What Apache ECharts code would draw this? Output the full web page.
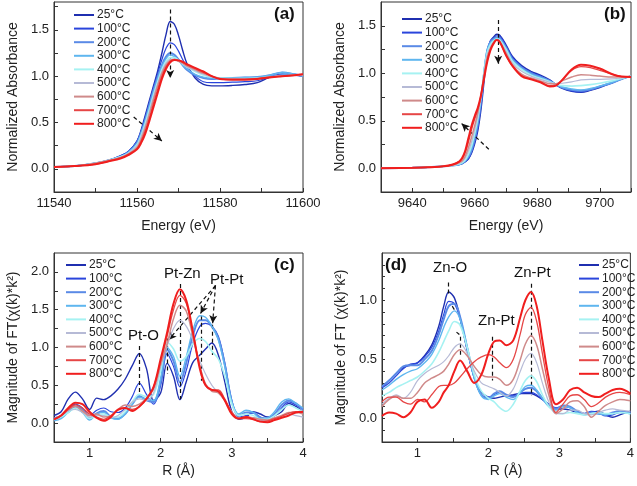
<!DOCTYPE html>
<html><head><meta charset="utf-8">
<script src="https://cdn.jsdelivr.net/npm/echarts@6/dist/echarts.min.js"></script>
<style>html,body{margin:0;padding:0;background:#fff}#c{width:637px;height:486px}</style>
</head><body><div id="c"></div>
<script>
const temps = ['25°C','100°C','200°C','300°C','400°C','500°C','600°C','700°C','800°C'];

// Panel (a) Pt L3 XANES
const xA = [11540,11545,11550,11553,11556,11558,11560,11561,11562,11563,11564,11565,11566,11567,11568,11569,11570,11571,11572,11574,11576,11578,11580,11583,11586,11589,11592,11595,11598,11600];
const a25  = [0.02,0.03,0.06,0.09,0.14,0.19,0.30,0.42,0.58,0.74,0.90,1.06,1.25,1.45,1.59,1.56,1.44,1.28,1.14,0.98,0.91,0.895,0.895,0.90,0.91,0.93,0.99,1.02,1.01,1.0];
const a100 = [0.02,0.03,0.06,0.09,0.14,0.19,0.30,0.41,0.56,0.72,0.88,1.03,1.18,1.30,1.36,1.34,1.27,1.18,1.10,1.00,0.94,0.93,0.93,0.935,0.94,0.95,0.99,1.02,1.01,1.0];
const a200 = [0.02,0.03,0.06,0.09,0.13,0.18,0.28,0.39,0.53,0.69,0.85,0.99,1.12,1.21,1.25,1.23,1.18,1.12,1.07,1.01,0.98,0.97,0.975,0.98,0.985,0.99,1.01,1.04,1.02,1.0];
const a300 = [0.02,0.03,0.06,0.09,0.13,0.18,0.27,0.38,0.52,0.67,0.83,0.97,1.10,1.19,1.23,1.21,1.17,1.12,1.08,1.02,0.99,0.98,0.98,0.98,0.985,0.99,1.01,1.04,1.02,1.0];
const a400 = [0.02,0.03,0.06,0.09,0.13,0.17,0.26,0.36,0.49,0.64,0.80,0.94,1.07,1.16,1.20,1.20,1.17,1.13,1.10,1.05,1.01,0.99,0.98,0.975,0.975,0.98,0.99,1.01,1.01,1.01];
const a500 = [0.02,0.03,0.06,0.09,0.12,0.17,0.25,0.35,0.47,0.62,0.78,0.92,1.05,1.14,1.18,1.18,1.16,1.13,1.10,1.06,1.02,0.99,0.975,0.97,0.97,0.975,0.99,1.0,1.01,1.01];
const a600 = [0.02,0.03,0.06,0.09,0.12,0.16,0.23,0.32,0.44,0.59,0.75,0.90,1.03,1.12,1.17,1.18,1.16,1.14,1.11,1.07,1.03,1.0,0.975,0.965,0.965,0.975,0.99,1.0,1.01,1.02];
const a700 = [0.02,0.03,0.05,0.08,0.12,0.16,0.22,0.30,0.41,0.55,0.71,0.86,1.0,1.10,1.16,1.18,1.17,1.15,1.12,1.08,1.04,1.0,0.97,0.96,0.96,0.97,0.99,1.0,1.01,1.02];
const a800 = [0.02,0.03,0.05,0.08,0.11,0.15,0.21,0.28,0.38,0.52,0.67,0.82,0.97,1.08,1.15,1.175,1.17,1.155,1.13,1.09,1.05,1.0,0.97,0.965,0.965,0.97,0.985,1.0,1.01,1.02];

// Panel (b) Zn K XANES
const xB = [9630,9640,9645,9650,9653,9655,9656,9657,9658,9659,9660,9661,9662,9663,9664,9665,9666,9667,9668,9670,9672,9675,9678,9681,9684,9686,9688,9691,9694,9697,9700,9704,9707,9710];
const b25  = [0.0,0.005,0.01,0.02,0.03,0.04,0.05,0.07,0.10,0.16,0.26,0.40,0.62,0.92,1.22,1.34,1.38,1.41,1.40,1.30,1.18,1.08,1.02,0.98,0.93,0.88,0.84,0.81,0.80,0.82,0.85,0.90,0.94,0.97];
const b100 = [0.0,0.005,0.01,0.02,0.03,0.04,0.05,0.07,0.10,0.17,0.28,0.43,0.66,0.96,1.24,1.34,1.37,1.395,1.39,1.29,1.17,1.07,1.01,0.97,0.925,0.88,0.845,0.815,0.805,0.825,0.855,0.90,0.94,0.97];
const b200 = [0.0,0.005,0.01,0.02,0.03,0.04,0.05,0.08,0.12,0.19,0.31,0.47,0.70,1.0,1.24,1.33,1.36,1.38,1.37,1.27,1.15,1.06,1.0,0.96,0.92,0.88,0.85,0.825,0.815,0.83,0.86,0.90,0.94,0.97];
const b300 = [0.0,0.005,0.01,0.02,0.03,0.04,0.055,0.08,0.13,0.21,0.34,0.50,0.74,1.03,1.25,1.32,1.35,1.37,1.36,1.26,1.14,1.05,0.99,0.955,0.915,0.88,0.855,0.835,0.825,0.84,0.865,0.905,0.94,0.97];
const b400 = [0.0,0.005,0.01,0.02,0.03,0.045,0.06,0.09,0.15,0.24,0.37,0.53,0.75,1.02,1.22,1.30,1.34,1.36,1.35,1.25,1.13,1.04,0.98,0.945,0.91,0.885,0.87,0.865,0.87,0.88,0.895,0.92,0.945,0.97];
const b500 = [0.0,0.005,0.01,0.02,0.03,0.05,0.07,0.11,0.18,0.28,0.41,0.56,0.76,1.0,1.19,1.28,1.33,1.355,1.34,1.23,1.11,1.02,0.97,0.935,0.905,0.89,0.895,0.91,0.93,0.935,0.935,0.94,0.95,0.965];
const b600 = [0.0,0.005,0.01,0.02,0.035,0.06,0.08,0.13,0.22,0.33,0.45,0.59,0.77,0.99,1.17,1.26,1.32,1.35,1.33,1.21,1.09,0.99,0.95,0.92,0.89,0.89,0.92,0.96,0.985,0.98,0.97,0.96,0.96,0.965];
const b700 = [0.0,0.005,0.01,0.02,0.04,0.07,0.10,0.17,0.28,0.41,0.52,0.62,0.76,0.96,1.14,1.25,1.32,1.355,1.33,1.19,1.08,0.975,0.94,0.91,0.87,0.875,0.93,1.03,1.07,1.06,1.03,0.99,0.965,0.96];
const b800 = [0.0,0.005,0.01,0.02,0.04,0.07,0.11,0.19,0.32,0.45,0.55,0.64,0.77,0.95,1.12,1.24,1.31,1.35,1.33,1.19,1.08,0.97,0.935,0.905,0.86,0.87,0.93,1.04,1.09,1.08,1.05,0.99,0.965,0.96];

// Panel (c) Pt FT
const xC = [0.5,0.6,0.7,0.8,0.9,1.0,1.1,1.2,1.3,1.4,1.5,1.6,1.7,1.8,1.9,2.0,2.09,2.18,2.27,2.36,2.45,2.55,2.63,2.72,2.81,2.9,3.0,3.1,3.2,3.3,3.4,3.5,3.6,3.7,3.8,3.9,4.0];
const c25  = [0.10,0.15,0.32,0.41,0.32,0.18,0.33,0.31,0.36,0.45,0.58,0.76,0.92,0.72,0.30,0.40,0.79,0.62,0.31,0.55,0.80,0.90,0.98,1.06,0.90,0.55,0.15,0.05,0.08,0.15,0.12,0.08,0.10,0.15,0.26,0.22,0.15];
const c100 = [0.07,0.10,0.18,0.25,0.20,0.10,0.17,0.20,0.15,0.14,0.20,0.35,0.53,0.38,0.25,0.50,0.92,0.75,0.48,0.70,1.05,1.28,1.32,1.28,1.15,0.80,0.30,0.08,0.10,0.13,0.08,0.05,0.10,0.20,0.28,0.24,0.18];
const c200 = [0.05,0.08,0.15,0.22,0.18,0.06,0.13,0.16,0.08,0.06,0.12,0.25,0.36,0.30,0.28,0.55,0.97,0.82,0.54,0.80,1.15,1.36,1.36,1.28,1.12,0.78,0.28,0.10,0.14,0.14,0.07,0.06,0.12,0.24,0.30,0.26,0.18];
const c300 = [0.03,0.06,0.14,0.20,0.14,0.04,0.12,0.14,0.07,0.05,0.12,0.25,0.34,0.32,0.30,0.60,1.00,0.88,0.62,0.88,1.22,1.42,1.40,1.28,1.10,0.75,0.28,0.12,0.17,0.14,0.06,0.07,0.15,0.28,0.32,0.26,0.20];
const c400 = [0.05,0.08,0.14,0.20,0.15,0.06,0.10,0.12,0.08,0.08,0.15,0.28,0.38,0.35,0.38,0.70,1.07,0.98,0.82,0.88,1.05,1.12,1.08,0.95,0.85,0.62,0.25,0.10,0.12,0.10,0.05,0.05,0.10,0.18,0.24,0.20,0.15];
const c500 = [0.06,0.10,0.16,0.18,0.14,0.08,0.10,0.10,0.07,0.10,0.18,0.28,0.32,0.30,0.40,0.75,1.02,1.25,1.36,1.28,1.10,0.82,0.65,0.50,0.40,0.30,0.15,0.07,0.08,0.07,0.04,0.03,0.06,0.10,0.12,0.10,0.08];
const c600 = [0.05,0.10,0.18,0.22,0.16,0.10,0.12,0.08,0.10,0.18,0.24,0.22,0.25,0.33,0.45,0.78,1.05,1.38,1.56,1.48,1.15,0.75,0.52,0.42,0.40,0.30,0.14,0.06,0.08,0.07,0.05,0.04,0.07,0.10,0.14,0.14,0.12];
const c700 = [0.05,0.10,0.18,0.24,0.20,0.12,0.08,0.05,0.10,0.17,0.20,0.18,0.22,0.32,0.48,0.82,1.15,1.50,1.69,1.58,1.20,0.75,0.50,0.44,0.44,0.32,0.14,0.06,0.06,0.05,0.02,0.03,0.06,0.09,0.13,0.15,0.14];
const c800 = [0.05,0.10,0.20,0.27,0.25,0.15,0.07,0.03,0.08,0.18,0.20,0.16,0.22,0.32,0.48,0.85,1.20,1.58,1.77,1.62,1.22,0.72,0.50,0.44,0.42,0.30,0.12,0.06,0.08,0.05,0.02,0.01,0.04,0.07,0.10,0.14,0.15];

// Panel (d) Zn FT
const xD = [0.5,0.6,0.7,0.8,0.9,1.0,1.1,1.2,1.3,1.37,1.44,1.52,1.6,1.7,1.8,1.9,2.0,2.08,2.16,2.25,2.35,2.45,2.52,2.6,2.68,2.76,2.85,2.95,3.05,3.15,3.25,3.35,3.45,3.55,3.65,3.75,3.85,4.0];
const d25  = [0.26,0.32,0.38,0.43,0.45,0.47,0.53,0.62,0.78,0.95,1.07,1.02,0.85,0.58,0.35,0.22,0.18,0.17,0.18,0.19,0.20,0.21,0.21,0.21,0.19,0.16,0.12,0.08,0.08,0.07,0.05,0.04,0.05,0.06,0.03,0.01,0.03,0.06];
const d100 = [0.26,0.30,0.36,0.42,0.46,0.47,0.52,0.60,0.74,0.88,0.99,0.97,0.84,0.58,0.34,0.20,0.18,0.20,0.22,0.20,0.19,0.21,0.22,0.22,0.20,0.16,0.12,0.09,0.10,0.09,0.06,0.04,0.06,0.05,0.02,0.03,0.05,0.05];
const d200 = [0.27,0.32,0.38,0.44,0.45,0.45,0.50,0.57,0.71,0.84,0.95,0.97,0.86,0.60,0.35,0.20,0.17,0.21,0.23,0.20,0.18,0.22,0.25,0.26,0.23,0.17,0.11,0.08,0.11,0.10,0.06,0.04,0.05,0.04,0.03,0.05,0.06,0.04];
const d300 = [0.24,0.28,0.33,0.37,0.40,0.42,0.47,0.54,0.66,0.77,0.86,0.91,0.84,0.60,0.34,0.19,0.16,0.19,0.21,0.18,0.16,0.22,0.27,0.28,0.24,0.17,0.10,0.07,0.10,0.09,0.05,0.03,0.04,0.04,0.03,0.04,0.05,0.04];
const d400 = [0.19,0.22,0.26,0.29,0.32,0.35,0.40,0.46,0.56,0.65,0.74,0.82,0.79,0.60,0.37,0.23,0.17,0.14,0.09,0.06,0.12,0.24,0.32,0.36,0.31,0.20,0.10,0.05,0.04,0.05,0.04,0.03,0.04,0.05,0.04,0.04,0.05,0.04];
const d500 = [0.12,0.17,0.20,0.17,0.22,0.32,0.38,0.42,0.45,0.48,0.53,0.60,0.63,0.55,0.40,0.30,0.27,0.25,0.22,0.19,0.25,0.40,0.50,0.55,0.47,0.30,0.14,0.04,0.04,0.07,0.07,0.04,0.03,0.05,0.07,0.08,0.07,0.06];
const d600 = [0.10,0.16,0.19,0.17,0.17,0.22,0.30,0.34,0.37,0.40,0.46,0.54,0.58,0.53,0.44,0.37,0.35,0.35,0.33,0.28,0.33,0.50,0.63,0.70,0.62,0.42,0.20,0.04,0.08,0.14,0.15,0.10,0.01,0.06,0.11,0.14,0.16,0.15];
const d700 = [0.14,0.18,0.18,0.14,0.12,0.16,0.14,0.20,0.27,0.28,0.28,0.30,0.35,0.42,0.48,0.52,0.54,0.52,0.47,0.43,0.50,0.72,0.88,0.94,0.82,0.55,0.26,0.05,0.12,0.19,0.20,0.16,0.10,0.13,0.18,0.21,0.22,0.20];
const d800 = [0.02,0.05,0.04,0.01,0.05,0.14,0.16,0.09,0.14,0.22,0.28,0.40,0.49,0.40,0.30,0.37,0.55,0.65,0.66,0.62,0.66,0.86,1.00,1.07,0.95,0.66,0.34,0.12,0.16,0.24,0.26,0.22,0.19,0.18,0.21,0.24,0.25,0.21];

const panels = [
  {x: xA, ys: [a25,a100,a200,a300,a400,a500,a600,a700,a800]},
  {x: xB, ys: [b25,b100,b200,b300,b400,b500,b600,b700,b800]},
  {x: xC, ys: [c25,c100,c200,c300,c400,c500,c600,c700,c800]},
  {x: xD, ys: [d25,d100,d200,d300,d400,d500,d600,d700,d800]}
];

const colors = ['#1f2fb0','#2a45dc','#5a8ae6','#5fb6ef','#a6f2f2','#b6bad6','#cf8a8a','#e64646','#f01e1e'];
const widths = [1.4,1.2,2.0,1.4,1.6,1.2,1.5,1.3,2.0];
const FONT = 'Arial, "Liberation Sans", sans-serif';

const grids = [
  {left:54, top:2, width:249, height:190},
  {left:381, top:2, width:250, height:190},
  {left:54, top:253, width:249, height:189},
  {left:382, top:253, width:249, height:189}
];

function halfLabel(v){ return Math.abs(v*2-Math.round(v*2))<1e-6 ? (Math.round(v*2)/2).toFixed(1) : ''; }
function intLabel(v){ return Math.abs(v-Math.round(v))<1e-6 ? String(Math.round(v)) : ''; }
function twentyLabel(v){ return Math.round(v)%20===0 ? String(Math.round(v)) : ''; }

const axisCommon = {
  axisLine:{show:true, onZero:false, lineStyle:{color:'#333', width:1}},
  axisTick:{show:true, inside:true, length:4, lineStyle:{color:'#333'}},
  splitLine:{show:false},
  axisLabel:{color:'#222', fontFamily:FONT, fontSize:13, margin:5, showMinLabel:true, showMaxLabel:true},
  nameTextStyle:{color:'#222', fontFamily:FONT, fontSize:14}
};
function mk(base, extra){
  const o = JSON.parse(JSON.stringify(base));
  for (const k in extra){
    if (typeof extra[k]==='object' && !Array.isArray(extra[k]) && o[k]) Object.assign(o[k], extra[k]);
    else o[k]=extra[k];
  }
  return o;
}

const xAxes = [
  mk(axisCommon,{gridIndex:0,type:'value',min:11540,max:11600,interval:10,name:'Energy (eV)',nameLocation:'middle',nameGap:27,axisLabel:{formatter:twentyLabel}}),
  mk(axisCommon,{gridIndex:1,type:'value',min:9630,max:9710,interval:10,name:'Energy (eV)',nameLocation:'middle',nameGap:27,axisLabel:{formatter:twentyLabel}}),
  mk(axisCommon,{gridIndex:2,type:'value',min:0.5,max:4,interval:0.5,name:'R (Å)',nameLocation:'middle',nameGap:22,axisLabel:{formatter:intLabel}}),
  mk(axisCommon,{gridIndex:3,type:'value',min:0.5,max:4,interval:0.5,name:'R (Å)',nameLocation:'middle',nameGap:22,axisLabel:{formatter:intLabel}})
];
const yAxes = [
  mk(axisCommon,{gridIndex:0,type:'value',min:-0.25,max:1.8,interval:0.25,name:'Normalized Absorbance',nameLocation:'middle',nameGap:34,axisLabel:{formatter:halfLabel,showMaxLabel:false}}),
  mk(axisCommon,{gridIndex:1,type:'value',min:-0.25,max:1.75,interval:0.25,name:'Normalized Absorbance',nameLocation:'middle',nameGap:34,axisLabel:{formatter:halfLabel,showMaxLabel:false}}),
  mk(axisCommon,{gridIndex:2,type:'value',min:-0.25,max:2.25,interval:0.25,name:'Magnitude of FT(χ(k)*k²)',nameLocation:'middle',nameGap:34,axisLabel:{formatter:halfLabel,showMaxLabel:false}}),
  mk(axisCommon,{gridIndex:3,type:'value',min:-0.2,max:1.4,interval:0.1,name:'Magnitude of FT (χ(k)*k²)',nameLocation:'middle',nameGap:34,axisLabel:{formatter:halfLabel,showMaxLabel:false},axisTick:{length:3}})
];

const series = [];
panels.forEach((p, pi) => {
  p.ys.forEach((ys, i) => {
    series.push({
      type:'line', name:temps[i], xAxisIndex:pi, yAxisIndex:pi,
      data: p.x.map((x, k) => [x, ys[k]]),
      smooth:0.35, symbol:'none', silent:true,
      lineStyle:{color:colors[i], width:widths[i]}, itemStyle:{color:colors[i]},
      z: 2 + i
    });
  });
});

// annotation arrows / dashed guide lines (data space)
const dash = {color:'#111', type:[4,3], width:1.2};
function guides(pi, segs){
  series.push({
    type:'line', xAxisIndex:pi, yAxisIndex:pi, data:[], silent:true, z:20,
    markLine:{silent:true, animation:false, symbolSize:[6,8], label:{show:false}, lineStyle:dash,
      data: segs.map(s => [{coord:s[0], symbol:'none'}, {coord:s[1], symbol:s[2]?'arrow':'none'}])}
  });
}
guides(0, [[[11568,1.72],[11568,0.98],true],[[11559.2,0.56],[11566,0.30],true]]);
guides(1, [[[9667.5,1.56],[9667.5,1.1],true],[[9664.5,0.2],[9655.8,0.47],true]]);
guides(2, [
  [[1.7,1.02],[1.7,0.4],false],
  [[2.27,1.84],[2.27,0.32],false],
  [[2.09,1.12],[2.09,0.65],false],
  [[2.77,1.82],[2.11,1.1],true],
  [[2.77,1.82],[2.56,1.45],true],
  [[2.77,1.82],[2.73,1.32],true],
  [[2.57,1.42],[2.57,0.56],false],
  [[2.73,1.3],[2.73,0.9],false]
]);
guides(3, [
  [[1.43,1.15],[1.43,1.05],false],
  [[1.49,0.95],[1.53,0.91],false],
  [[1.55,0.73],[1.59,0.71],false],
  [[1.6,0.69],[1.6,0.53],false],
  [[2.05,0.69],[2.05,0.32],false],
  [[2.6,1.14],[2.6,0.19],false]
]);

function legend(left, top){
  return {left, top, orient:'vertical', icon:'rect', itemWidth:20, itemHeight:2, itemGap:1.6,
    data:temps, selectedMode:false,
    textStyle:{fontFamily:FONT, fontSize:12, color:'#222', padding:[0,0,0,-2], lineHeight:12}};
}

function txt(x, y, s, size, bold){
  return {type:'text', left:x, top:y, style:{text:s, font:(bold?'bold ':'')+size+'px '+FONT, fill:'#111'}};
}

const chart = echarts.init(document.getElementById('c'), null, {renderer:'canvas'});
chart.setOption({
  animation:false,
  grid: grids.map(g => Object.assign({show:true, borderColor:'#333', borderWidth:1, backgroundColor:'transparent'}, g)),
  xAxis: xAxes, yAxis: yAxes,
  legend:[legend(69,4), legend(397,8), legend(61,254), legend(574,254)],
  series,
  graphic:[
    txt(274,6,'(a)',17,true), txt(604,6,'(b)',17,true),
    txt(274,257,'(c)',17,true), txt(385,257,'(d)',17,true),
    txt(128,328,'Pt-O',15,false), txt(164,266,'Pt-Zn',15,false), txt(210,272,'Pt-Pt',15,false),
    txt(433,260,'Zn-O',15,false), txt(478,313,'Zn-Pt',15,false), txt(514,265,'Zn-Pt',15,false)
  ]
});
</script></body></html>
